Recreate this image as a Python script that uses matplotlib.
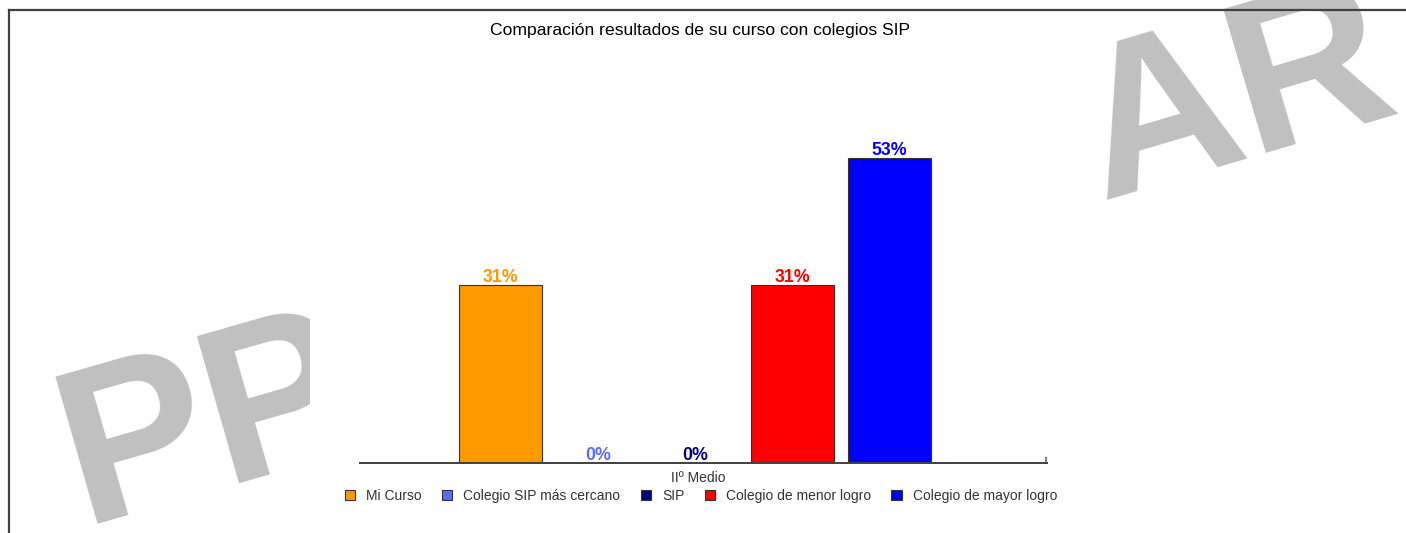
import matplotlib.pyplot as plt
from matplotlib.patches import Patch, Rectangle
from matplotlib.lines import Line2D

plt.rcParams['font.family'] = ['Liberation Sans', 'DejaVu Sans']

# data
series = ["Mi Curso", "Colegio SIP más cercano", "SIP",
          "Colegio de menor logro", "Colegio de mayor logro"]
values = [31, 0, 0, 31, 53]
colors = ["#FF9900", "#5A6CFF", "#000080", "#FF0000", "#0000FF"]
category = "IIº Medio"
title = "Comparación resultados de su curso con colegios SIP"

W, H = 1406, 533
fig = plt.figure(figsize=(W / 100, H / 100), dpi=100)

# watermark behind everything (cut off like in the original image)
pp = fig.text(82 / W, 1 - 524 / H, "PP", fontsize=160, fontweight='bold',
              color='#C0C0C0', rotation=16, rotation_mode='anchor',
              ha='left', va='baseline', zorder=0)
pp.set_clip_path(Rectangle((0, 0), 310 / W, 1, transform=fig.transFigure))
fig.text(1102 / W, 1 - 200 / H, "AR", fontsize=157, fontweight='bold',
         color='#C0C0C0', rotation=16.5, rotation_mode='anchor',
         ha='left', va='baseline', zorder=0)

# frame lines (top and left)
fig.add_artist(Line2D([9 / W, 1], [1 - 10 / H, 1 - 10 / H], color='#404040',
                      lw=1.6, transform=fig.transFigure, zorder=3))
fig.add_artist(Line2D([9 / W, 9 / W], [0, 1 - 10 / H], color='#404040',
                      lw=1.6, transform=fig.transFigure, zorder=3))

fig.text(700 / W, 1 - 30 / H, title, fontsize=12.6, ha='center', va='center')

# plot area
ymax = 60
top_px = 463 - ymax * 5.75
ax = fig.add_axes([360 / W, 1 - 463 / H, (1047 - 360) / W, (463 - top_px) / H])
ax.patch.set_alpha(0)

step = 97.2
x = list(range(len(series)))
ax.bar(x, values, width=83 / step, color=colors, edgecolor='#333333', lw=0.8,
       zorder=2)
for xi, v, c in zip(x, values, colors):
    ax.annotate(f"{v}%", (xi, v), xytext=(0, 3), textcoords='offset pixels',
                ha='center', va='baseline', fontsize=12.8, fontweight='bold',
                color=c)

ax.set_xlim((360 - 500.5) / step, (1047 - 500.5) / step)
ax.set_ylim(0, ymax)
ax.set_yticks([])
for s in ['left', 'top', 'right']:
    ax.spines[s].set_visible(False)
ax.spines['bottom'].set_color('#404040')
ax.spines['bottom'].set_linewidth(1.4)
ax.set_xticks([2.03])
ax.set_xticklabels([category], fontsize=10, color='#333333')
ax.tick_params(axis='x', length=0, pad=6)
ax.set_xticks([(1047 - 500.5) / step - 0.01], minor=True)
ax.tick_params(axis='x', which='minor', direction='in', length=4,
               color='#808080', width=1.5)

handles = [Patch(facecolor=c, edgecolor='#333333', lw=0.8) for c in colors]
fig.legend(handles, series, loc='center', bbox_to_anchor=(701 / W, 1 - 496 / H),
           ncol=5, frameon=False, fontsize=10, handlelength=0.75,
           handleheight=0.75, handletextpad=0.8, columnspacing=1.45,
           borderpad=0, labelcolor='#333333')

fig.savefig("out.png", dpi=100)
